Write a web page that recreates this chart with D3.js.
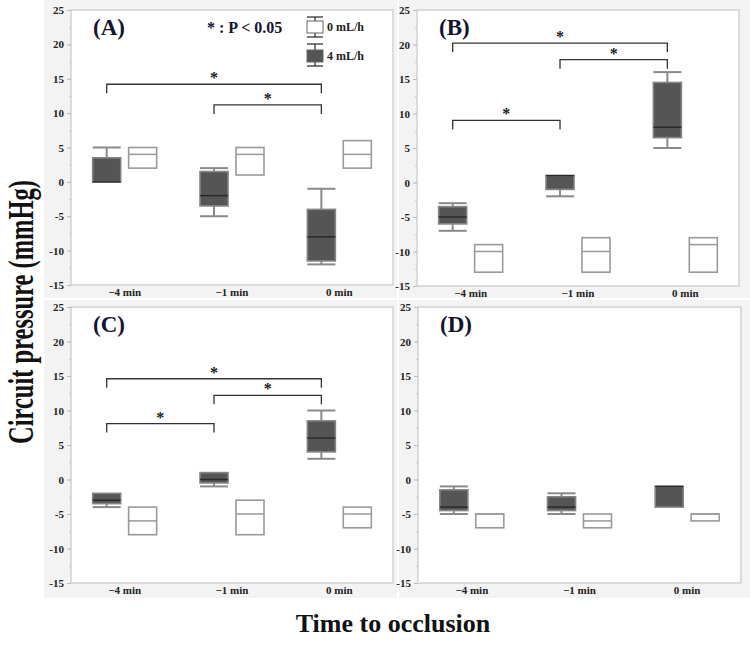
<!DOCTYPE html>
<html>
<head>
<meta charset="utf-8">
<script src="https://cdn.jsdelivr.net/npm/d3@7/dist/d3.min.js"></script>
<style>
  body { margin: 0; background: #fff; }
  svg { display: block; }
</style>
</head>
<body>
<script>
// ================== DATA ===========================
const categories = ["−4 min", "−1 min", "0 min"];
const groups = ["4 mL/h", "0 mL/h"];
const panelLabels = ["(A)", "(B)", "(C)", "(D)"];
const yTicks = [25, 20, 15, 10, 5, 0, -5, -10, -15];

// box stats per category: [min, q1, median, q3, max]
const statsA4 = [[0, 0, 0, 3.5, 5], [-5, -3.5, -2, 1.5, 2], [-12, -11.5, -8, -4, -1]];
const statsA0 = [[2, 2, 4, 5, 5], [1, 1, 4, 5, 5], [2, 2, 4, 6, 6]];
const statsB4 = [[-7, -6, -5, -3.5, -3], [-2, -1, 1, 1, 1], [5, 6.5, 8, 14.5, 16]];
const statsB0 = [[-13, -13, -10, -9, -9], [-13, -13, -10, -8, -8], [-13, -13, -9, -8, -8]];
const statsC4 = [[-4, -3.5, -3, -2, -2], [-1, -0.5, 0, 1, 1], [3, 4, 6, 8.5, 10]];
const statsC0 = [[-8, -8, -6, -4, -4], [-8, -8, -5, -3, -3], [-7, -7, -5, -4, -4]];
const statsD4 = [[-5, -4.5, -4, -1.5, -1], [-5, -4.5, -4, -2.5, -2], [-4, -4, -1, -1, -1]];
const statsD0 = [[-7, -7, -5, -5, -5], [-7, -7, -6, -5, -5], [-6, -6, -5, -5, -5]];

// significance brackets: [from, to, level]
const sigA = [["−4 min", "0 min", 14.2], ["−1 min", "0 min", 11.2]];
const sigB = [["−4 min", "0 min", 20.2], ["−1 min", "0 min", 17.8], ["−4 min", "−1 min", 9]];
const sigC = [["−4 min", "0 min", 14.6], ["−1 min", "0 min", 12.2], ["−4 min", "−1 min", 8.1]];
const sigD = [];

const panelStats = [[statsA4, statsA0], [statsB4, statsB0], [statsC4, statsC0], [statsD4, statsD0]];
const panelSig = [sigA, sigB, sigC, sigD];

// ================== LAYOUT ===========================
const W = 750, H = 655;
const serif = "'Liberation Serif', 'Times New Roman', serif";
const darkFill = "#555555";

// plot frames and grey panel backgrounds
const frames = [
  {x: 71, y: 10, w: 322, h: 275, bg: [44, 0, 353, 298]},
  {x: 417, y: 10, w: 322, h: 276, bg: [399, 0, 351, 298]},
  {x: 71, y: 307, w: 322, h: 276, bg: [44, 300, 353, 298]},
  {x: 418, y: 307, w: 323, h: 276, bg: [399, 300, 351, 298]}
];

const svg = d3.select("body").append("svg")
  .attr("width", W).attr("height", H)
  .style("font-family", serif);

frames.forEach((f, p) => {
  svg.append("rect")
    .attr("x", f.bg[0]).attr("y", f.bg[1])
    .attr("width", f.bg[2]).attr("height", f.bg[3])
    .attr("fill", "#f3f3f3");

  const g = svg.append("g").attr("transform", `translate(${f.x},${f.y})`);

  g.append("rect")
    .attr("width", f.w).attr("height", f.h)
    .attr("fill", "#fff").attr("stroke", "#d2d2d2").attr("stroke-width", 1.5);

  const y = d3.scaleLinear().domain([-15, 25]).range([f.h, 0]);
  const x0 = d3.scaleBand().domain(categories).range([0, f.w]);
  const bw = x0.bandwidth();
  const x1 = d3.scaleBand().domain(groups).range([bw / 2 - 32, bw / 2 + 32]).paddingInner(0.22);

  // minor ticks
  const minor = g.append("g").call(d3.axisLeft(y).tickValues(d3.range(-15, 25.1, 2.5)).tickSize(2).tickFormat(""));
  minor.select(".domain").remove();
  minor.selectAll("line").attr("stroke", "#c8c8c8");

  // y axis
  const yAx = g.append("g")
    .call(d3.axisLeft(y).tickValues(yTicks).tickSize(4).tickPadding(3).tickFormat(d => String(d)));
  yAx.select(".domain").remove();
  yAx.selectAll("line").attr("stroke", "#bbbbbb");
  yAx.selectAll("text")
    .attr("font-family", serif).attr("font-weight", "bold").attr("font-size", 11).attr("fill", "#222");

  // x axis
  const xAx = g.append("g").attr("transform", `translate(0,${f.h})`)
    .call(d3.axisBottom(x0).tickSize(0).tickPadding(3));
  xAx.select(".domain").remove();
  xAx.selectAll("text")
    .attr("font-family", serif).attr("font-weight", "bold").attr("font-size", 11).attr("fill", "#222");

  // boxes
  groups.forEach((grp, gi) => {
    const isDark = gi === 0;
    const stats = panelStats[p][gi];
    stats.forEach((s, ci) => {
      const [mn, q1, med, q3, mx] = s;
      const bx = x0(categories[ci]) + x1(grp);
      const w = x1.bandwidth();
      const cx = bx + w / 2;
      const bg = g.append("g");
      const wcol = isDark ? "#8a8a8a" : "#a0a0a0";
      if (mx > q3) {
        bg.append("line").attr("x1", cx).attr("x2", cx).attr("y1", y(q3)).attr("y2", y(mx))
          .attr("stroke", wcol).attr("stroke-width", 2);
        bg.append("line").attr("x1", bx).attr("x2", bx + w).attr("y1", y(mx)).attr("y2", y(mx))
          .attr("stroke", wcol).attr("stroke-width", 2);
      }
      if (mn < q1) {
        bg.append("line").attr("x1", cx).attr("x2", cx).attr("y1", y(q1)).attr("y2", y(mn))
          .attr("stroke", wcol).attr("stroke-width", 2);
        bg.append("line").attr("x1", bx).attr("x2", bx + w).attr("y1", y(mn)).attr("y2", y(mn))
          .attr("stroke", wcol).attr("stroke-width", 2);
      }
      bg.append("rect")
        .attr("x", bx).attr("y", y(q3))
        .attr("width", w).attr("height", y(q1) - y(q3))
        .attr("fill", isDark ? darkFill : "#fff")
        .attr("stroke", isDark ? "#858585" : "#9a9a9a").attr("stroke-width", 1.6);
      bg.append("line").attr("x1", bx).attr("x2", bx + w).attr("y1", y(med)).attr("y2", y(med))
        .attr("stroke", isDark ? "#2a2a2a" : "#9a9a9a").attr("stroke-width", 1.5);
    });
  });

  // significance brackets (between dark boxes)
  panelSig[p].forEach(([a, b, lvl]) => {
    const xa = x0(a) + x1(groups[0]) + x1.bandwidth() / 2;
    const xb = x0(b) + x1(groups[0]) + x1.bandwidth() / 2;
    const yl = y(lvl);
    g.append("path")
      .attr("d", `M${xa},${yl + 9}V${yl}H${xb}V${yl + 9}`)
      .attr("fill", "none").attr("stroke", "#333").attr("stroke-width", 1.3);
    g.append("text")
      .attr("x", (xa + xb) / 2).attr("y", yl - 1)
      .attr("text-anchor", "middle")
      .attr("font-weight", "bold").attr("font-size", 16).attr("fill", "#222")
      .text("*");
  });

  // panel letter
  g.append("text")
    .attr("x", 22).attr("y", 25)
    .attr("font-weight", "bold").attr("font-size", 23).attr("fill", "#141430")
    .text(panelLabels[p]);

  // legend and p-value note in panel A
  if (p === 0) {
    g.append("text")
      .attr("x", 136).attr("y", 23)
      .attr("font-weight", "bold").attr("font-size", 16).attr("fill", "#141430")
      .text("* : P < 0.05");

    const legendRows = [
      {grp: groups[1], top: 7, mid: 17, bot: 27},
      {grp: groups[0], top: 34, mid: 46, bot: 56}
    ];
    legendRows.forEach(r => {
      const lx = 236, lw = 16;
      const dark = r.grp === groups[0];
      const lg = g.append("g");
      lg.append("line").attr("x1", lx + lw / 2).attr("x2", lx + lw / 2).attr("y1", r.top).attr("y2", r.bot)
        .attr("stroke", "#333").attr("stroke-width", 1.3);
      [r.top, r.bot].forEach(yy => lg.append("line").attr("x1", lx).attr("x2", lx + lw)
        .attr("y1", yy).attr("y2", yy).attr("stroke", "#333").attr("stroke-width", 1.3));
      lg.append("rect").attr("x", lx).attr("y", r.mid - 6).attr("width", lw).attr("height", 12)
        .attr("fill", dark ? darkFill : "#fff").attr("stroke", "#666");
      lg.append("text").attr("x", lx + lw + 4).attr("y", r.mid + 4)
        .attr("font-weight", "bold").attr("font-size", 12).attr("fill", "#222")
        .text(r.grp);
    });
  }
});

// axis titles (y title is stretched across its height, as in the source figure)
svg.append("text")
  .attr("transform", "translate(33,312) scale(1.45,1) rotate(-90)")
  .attr("text-anchor", "middle")
  .attr("font-weight", "bold").attr("font-size", 24.5).attr("fill", "#111")
  .text("Circuit pressure (mmHg)");

svg.append("text")
  .attr("x", 393).attr("y", 632)
  .attr("text-anchor", "middle")
  .attr("font-weight", "bold").attr("font-size", 26).attr("fill", "#111")
  .text("Time to occlusion");
</script>
</body>
</html>
